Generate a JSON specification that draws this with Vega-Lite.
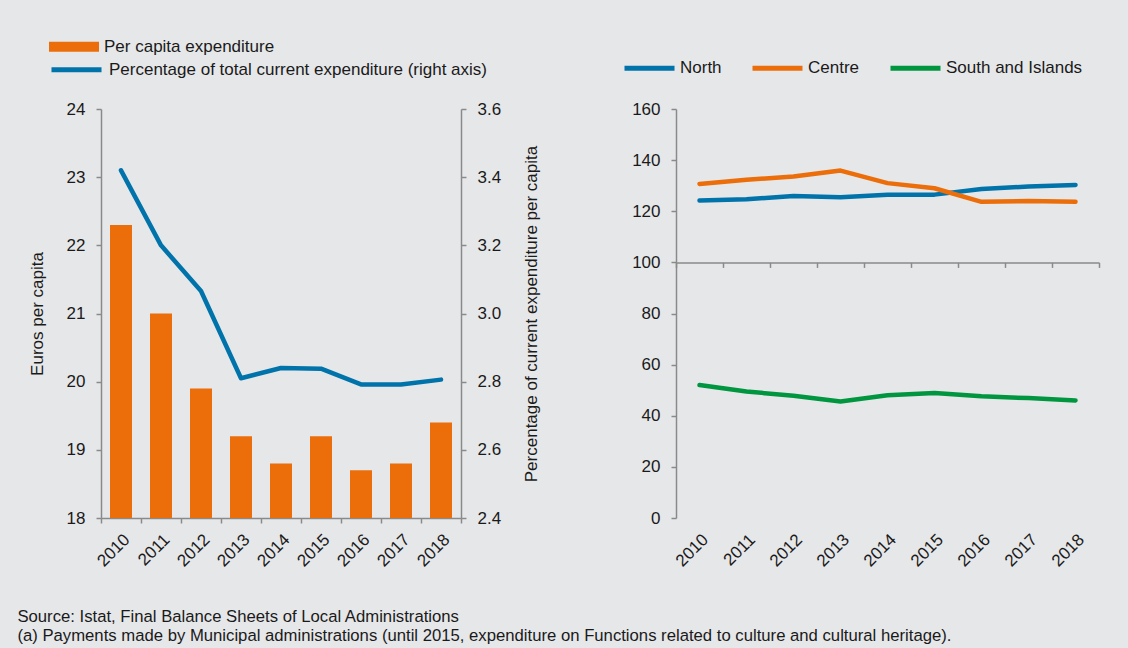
{
  "$schema": "https://vega.github.io/schema/vega-lite/v6.json",
  "background": "#e6e7e9",
  "padding": {"left": 17, "top": 21, "right": 49, "bottom": 6},
  "datasets": {
    "left": [
      {"year": "2010", "euros": 22.3, "pct": 3.42},
      {"year": "2011", "euros": 21.0, "pct": 3.20},
      {"year": "2012", "euros": 19.9, "pct": 3.066},
      {"year": "2013", "euros": 19.2, "pct": 2.81},
      {"year": "2014", "euros": 18.8, "pct": 2.84},
      {"year": "2015", "euros": 19.2, "pct": 2.838},
      {"year": "2016", "euros": 18.7, "pct": 2.792},
      {"year": "2017", "euros": 18.8, "pct": 2.792},
      {"year": "2018", "euros": 19.4, "pct": 2.806}
    ],
    "right": [
      {"year": "2010", "region": "North", "value": 124.2},
      {"year": "2011", "region": "North", "value": 124.7},
      {"year": "2012", "region": "North", "value": 126.0},
      {"year": "2013", "region": "North", "value": 125.5},
      {"year": "2014", "region": "North", "value": 126.5},
      {"year": "2015", "region": "North", "value": 126.5},
      {"year": "2016", "region": "North", "value": 128.7},
      {"year": "2017", "region": "North", "value": 129.7},
      {"year": "2018", "region": "North", "value": 130.3},
      {"year": "2010", "region": "Centre", "value": 130.7},
      {"year": "2011", "region": "Centre", "value": 132.3},
      {"year": "2012", "region": "Centre", "value": 133.6},
      {"year": "2013", "region": "Centre", "value": 135.9},
      {"year": "2014", "region": "Centre", "value": 131.0},
      {"year": "2015", "region": "Centre", "value": 129.0},
      {"year": "2016", "region": "Centre", "value": 123.7},
      {"year": "2017", "region": "Centre", "value": 124.0},
      {"year": "2018", "region": "Centre", "value": 123.7},
      {"year": "2010", "region": "South and Islands", "value": 52.0},
      {"year": "2011", "region": "South and Islands", "value": 49.5},
      {"year": "2012", "region": "South and Islands", "value": 47.8},
      {"year": "2013", "region": "South and Islands", "value": 45.6},
      {"year": "2014", "region": "South and Islands", "value": 48.0},
      {"year": "2015", "region": "South and Islands", "value": 48.9},
      {"year": "2016", "region": "South and Islands", "value": 47.6},
      {"year": "2017", "region": "South and Islands", "value": 46.9},
      {"year": "2018", "region": "South and Islands", "value": 46.0}
    ]
  },
  "title": {
    "text": ["Source: Istat, Final Balance Sheets of Local Administrations", "(a) Payments made by Municipal administrations (until 2015, expenditure on Functions related to culture and cultural heritage)."],
    "orient": "bottom",
    "anchor": "start",
    "font": "Liberation Sans",
    "fontSize": 16.7,
    "fontWeight": "normal",
    "color": "#1a1a1a",
    "lineHeight": 19,
    "offset": 40,
    "dx": -10.7
  },
  "spacing": 91,
  "hconcat": [
    {
      "width": 360,
      "height": 409,
      "data": {"name": "left"},
      "encoding": {
        "x": {
          "field": "year", "type": "ordinal",
          "scale": {"paddingInner": 0, "paddingOuter": 0},
          "axis": {"title": null, "labelAngle": -45, "tickBand": "extent", "labelPadding": 8}
        }
      },
      "layer": [
        {
          "mark": {"type": "bar", "width": {"band": 0.55}},
          "encoding": {
            "y": {
              "field": "euros", "type": "quantitative",
              "scale": {"domain": [18, 24], "zero": false},
              "axis": {"title": "Euros per capita", "values": [18, 19, 20, 21, 22, 23, 24], "titlePadding": 20}
            },
            "y2": {"datum": 18},
            "fill": {
              "datum": "Per capita expenditure",
              "scale": {"range": ["#eb6e0a"]},
              "legend": {
                "title": null, "orient": "none", "legendX": -52, "legendY": -87.3,
                "symbolType": "M-1,-0.2H1V0.2H-1Z", "symbolSize": 2500, "symbolStrokeWidth": 0
              }
            }
          }
        },
        {
          "mark": {"type": "line", "strokeWidth": 4.5, "strokeCap": "round", "strokeJoin": "round"},
          "encoding": {
            "y": {
              "field": "pct", "type": "quantitative",
              "scale": {"domain": [2.4, 3.6], "zero": false},
              "axis": {
                "orient": "right", "title": "Percentage of current expenditure per capita",
                "values": [2.4, 2.6, 2.8, 3.0, 3.2, 3.4, 3.6], "format": ".1f",
                "titleAngle": -90, "titlePadding": 40
              }
            },
            "stroke": {
              "datum": "Percentage of total current expenditure (right axis)",
              "scale": {"range": ["#0073aa"]},
              "legend": {
                "title": null, "orient": "none", "legendX": -52, "legendY": -66.8,
                "symbolType": "stroke", "symbolSize": 2500, "symbolStrokeWidth": 5
              }
            }
          }
        }
      ],
      "resolve": {"scale": {"y": "independent", "fill": "independent", "stroke": "independent"}}
    },
    {
      "width": 423,
      "height": 409,
      "data": {"name": "right"},
      "mark": {"type": "line", "strokeWidth": 4.5, "strokeCap": "round", "strokeJoin": "round"},
      "encoding": {
        "x": {
          "field": "year", "type": "ordinal",
          "scale": {"paddingInner": 0, "paddingOuter": 0},
          "axis": {"title": null, "labelAngle": -45, "tickBand": "extent", "offset": -255.6, "labelPadding": 263.6}
        },
        "y": {
          "field": "value", "type": "quantitative",
          "scale": {"domain": [0, 160]},
          "axis": {"title": null, "values": [0, 20, 40, 60, 80, 100, 120, 140, 160]}
        },
        "stroke": {
          "field": "region", "type": "nominal",
          "scale": {"domain": ["North", "Centre", "South and Islands"], "range": ["#0073aa", "#eb6e0a", "#009640"]},
          "legend": {
            "title": null, "orient": "none", "direction": "horizontal", "legendX": 521, "legendY": -68.6,
            "symbolType": "stroke", "symbolSize": 2500, "symbolStrokeWidth": 5, "columnPadding": 20, "labelOffset": 3
          }
        }
      }
    }
  ],
  "config": {
    "view": {"stroke": null},
    "font": "Liberation Sans",
    "axis": {
      "grid": false,
      "domainColor": "#8a8a8a",
      "domainWidth": 1.5,
      "tickColor": "#8a8a8a",
      "tickWidth": 1.5,
      "tickSize": 5,
      "labelPadding": 11,
      "labelFont": "Liberation Sans",
      "labelFontSize": 17,
      "labelColor": "#1a1a1a",
      "titleFont": "Liberation Sans",
      "titleFontSize": 17,
      "titleFontWeight": "normal",
      "titleColor": "#1a1a1a"
    },
    "legend": {
      "labelFont": "Liberation Sans",
      "labelFontSize": 17,
      "labelColor": "#1a1a1a",
      "labelOffset": 5,
      "labelLimit": 800,
      "padding": 0,
      "rowPadding": 4
    }
  }
}
